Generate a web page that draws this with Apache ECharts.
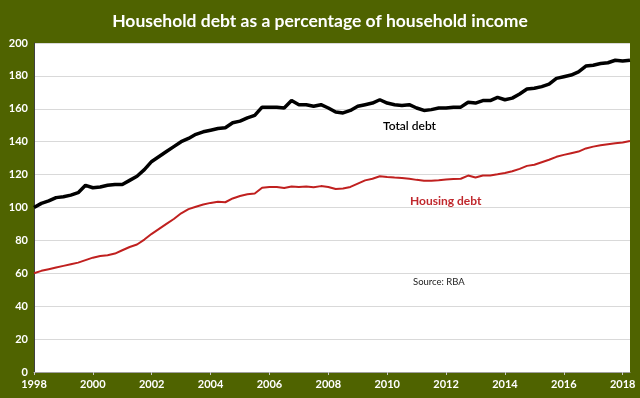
<!DOCTYPE html>
<html>
<head>
<meta charset="utf-8">
<script src="https://cdn.jsdelivr.net/npm/echarts@6/dist/echarts.min.js"></script>
<style>
html,body{margin:0;padding:0;background:#4f6300;}
#c{width:640px;height:398px;}
</style>
</head>
<body>
<div id="c"></div>
<script>
const startYear = 1998;
const quartersCount = 82;
const tickLabels = ["1998","2000","2002","2004","2006","2008","2010","2012","2014","2016","2018"];
const totalDebt = [
100,102.5,104,106,106.5,107.5,109,113.5,112,112.5,
113.5,114,114,116.5,119,123,128,131,134,137,
140,142,144.5,146,147,148,148.5,151.5,152.5,154.5,
156,161,161,161,160.5,165,162.5,162.5,161.5,162.5,
160.5,158,157.5,159,161.5,162.5,163.5,165.5,163.5,162.5,
162,162.5,160.5,159,159.5,160.5,160.5,161,161,164,
163.5,165,165,167,165.5,166.5,169,172,172.5,173.5,
175,178.5,179.5,180.5,182.5,186,186.5,187.5,188,189.5,
189,189.5
];
const housingDebt = [
60,61.5,62.5,63.5,64.5,65.5,66.5,68,69.5,70.5,
71,72,74,76,77.5,80.5,84,87,90,93,
96.5,99,100.5,101.8,102.8,103.5,103.2,105.5,107,108,
108.5,112,112.5,112.5,111.8,112.8,112.5,112.7,112.3,113,
112.5,111.2,111.5,112.5,114.5,116.5,117.5,119,118.5,118.2,
118,117.5,116.8,116.2,116.3,116.5,117,117.3,117.5,119.4,
118.2,119.4,119.5,120.2,121,122,123.5,125.3,126,127.5,
129,130.8,132,133,134,135.9,137,137.8,138.5,139,
139.5,140.4
];
const quarters = [];
for (let i = 0; i < quartersCount; i++) {
  quarters.push((startYear + Math.floor(i / 4)) + "Q" + (i % 4 + 1));
}
const chart = echarts.init(document.getElementById('c'), null, {renderer:'canvas'});
const FONT = 'Lato';
chart.setOption({
  backgroundColor: '#4f6300',
  animation: false,
  title: {
    text: 'Household debt as a percentage of household income',
    left: 'center', top: 7,
    textStyle: {color:'#ffffff', fontFamily: FONT, fontWeight:'bold', fontSize:17.5}
  },
  grid: {left:34, right:10, top:43, bottom:26, show:true, backgroundColor:'#ffffff', borderWidth:0},
  xAxis: {
    type:'category', data: quarters, boundaryGap:false,
    axisLine:{lineStyle:{color:'#a0a0a0', width:1}},
    axisTick:{interval:7, length:3, lineStyle:{color:'#c8c8c8'}},
    axisLabel:{
      interval:7, color:'#ffffff', fontFamily:FONT, fontWeight:'bold', fontSize:11, margin:7,
      formatter: function(v, idx){ return tickLabels[idx/8] || v.slice(0,4); }
    },
    splitLine:{show:false}
  },
  yAxis: {
    type:'value', min:0, max:200, interval:20,
    axisLine:{show:true, lineStyle:{color:'#404040', width:1}},
    axisTick:{show:false},
    axisLabel:{color:'#ffffff', fontFamily:FONT, fontWeight:'bold', fontSize:11, margin:6},
    splitLine:{lineStyle:{color:'#d9d9d9', width:1}}
  },
  series: [
    {name:'Total debt', type:'line', data: totalDebt, symbol:'none',
     lineStyle:{color:'#000000', width:3.5}, itemStyle:{color:'#000000'}},
    {name:'Housing debt', type:'line', data: housingDebt, symbol:'none',
     lineStyle:{color:'#c0201f', width:2}, itemStyle:{color:'#c0201f'}}
  ],
  graphic: [
    {type:'text', left:383, top:120, style:{text:'Total debt', fill:'#000000', font:'600 12px '+FONT}},
    {type:'text', left:410, top:195, style:{text:'Housing debt', fill:'#c0282d', font:'bold 12px '+FONT}},
    {type:'text', left:413, top:277, style:{text:'Source: RBA', fill:'#222222', font:'9.5px '+FONT}}
  ]
});
</script>
</body>
</html>
